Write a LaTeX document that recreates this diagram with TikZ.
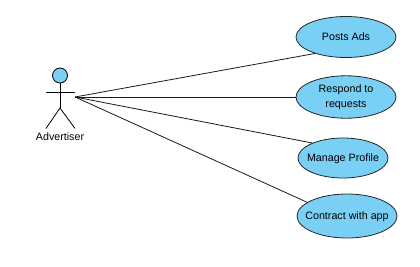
\documentclass[tikz,border=0pt]{standalone}
\usepackage{fontspec}
\setmainfont{Liberation Sans}
\usetikzlibrary{shapes.geometric}

\definecolor{ucblue}{RGB}{122,207,245}
\newcommand{\uctext}[1]{\makebox[0pt]{\begin{tabular}{@{}c@{}}#1\end{tabular}}}

\begin{document}
\begin{tikzpicture}[
        x=1pt, y=1pt,
        usecase/.style={ellipse, draw=black!85, fill=ucblue, line width=0.8pt, inner sep=0pt, minimum width=100pt, minimum height=41pt, font=\fontsize{10.7}{15}\selectfont},
        stick/.style={draw=black, line width=0.8pt},
        assoc/.style={draw=black!90, line width=0.8pt},
    ]
        \useasboundingbox (0,0) rectangle (420,266);

        % Use cases
        \node[usecase] (posts) at (346,229) {\uctext{Posts Ads}};
        \node[usecase] (respond) at (346,169) {\uctext{Respond to\\requests}};
        \node[usecase, minimum width=90pt, minimum height=40pt] (profile) at (343,108) {\uctext{Manage Profile}};
        \node[usecase, minimum height=44pt] (contract) at (347,50) {\uctext{Contract with app}};

        % Actor
        \node[circle, draw=black, fill=ucblue, line width=0.8pt, minimum size=15pt, inner sep=0pt] (head) at (60,190.5) {};
        \draw[stick] (head.south) -- (60,158) coordinate (hip);
        \draw[stick] (46,174) -- (75,174);
        \draw[stick] (46,137.5) -- (hip) -- (75,137.5);
        \node[font=\fontsize{10.7}{13}\selectfont] (advlabel) at (60,129) {Advertiser};
        \coordinate (adv) at (75,169);

        % Associations
        \draw[assoc] (adv) -- (posts.208);
        \draw[assoc] (adv) -- (respond.west);
        \draw[assoc] (adv) -- (profile.154);
        \draw[assoc] (adv) -- (contract.161);
    \end{tikzpicture}
\end{document}
